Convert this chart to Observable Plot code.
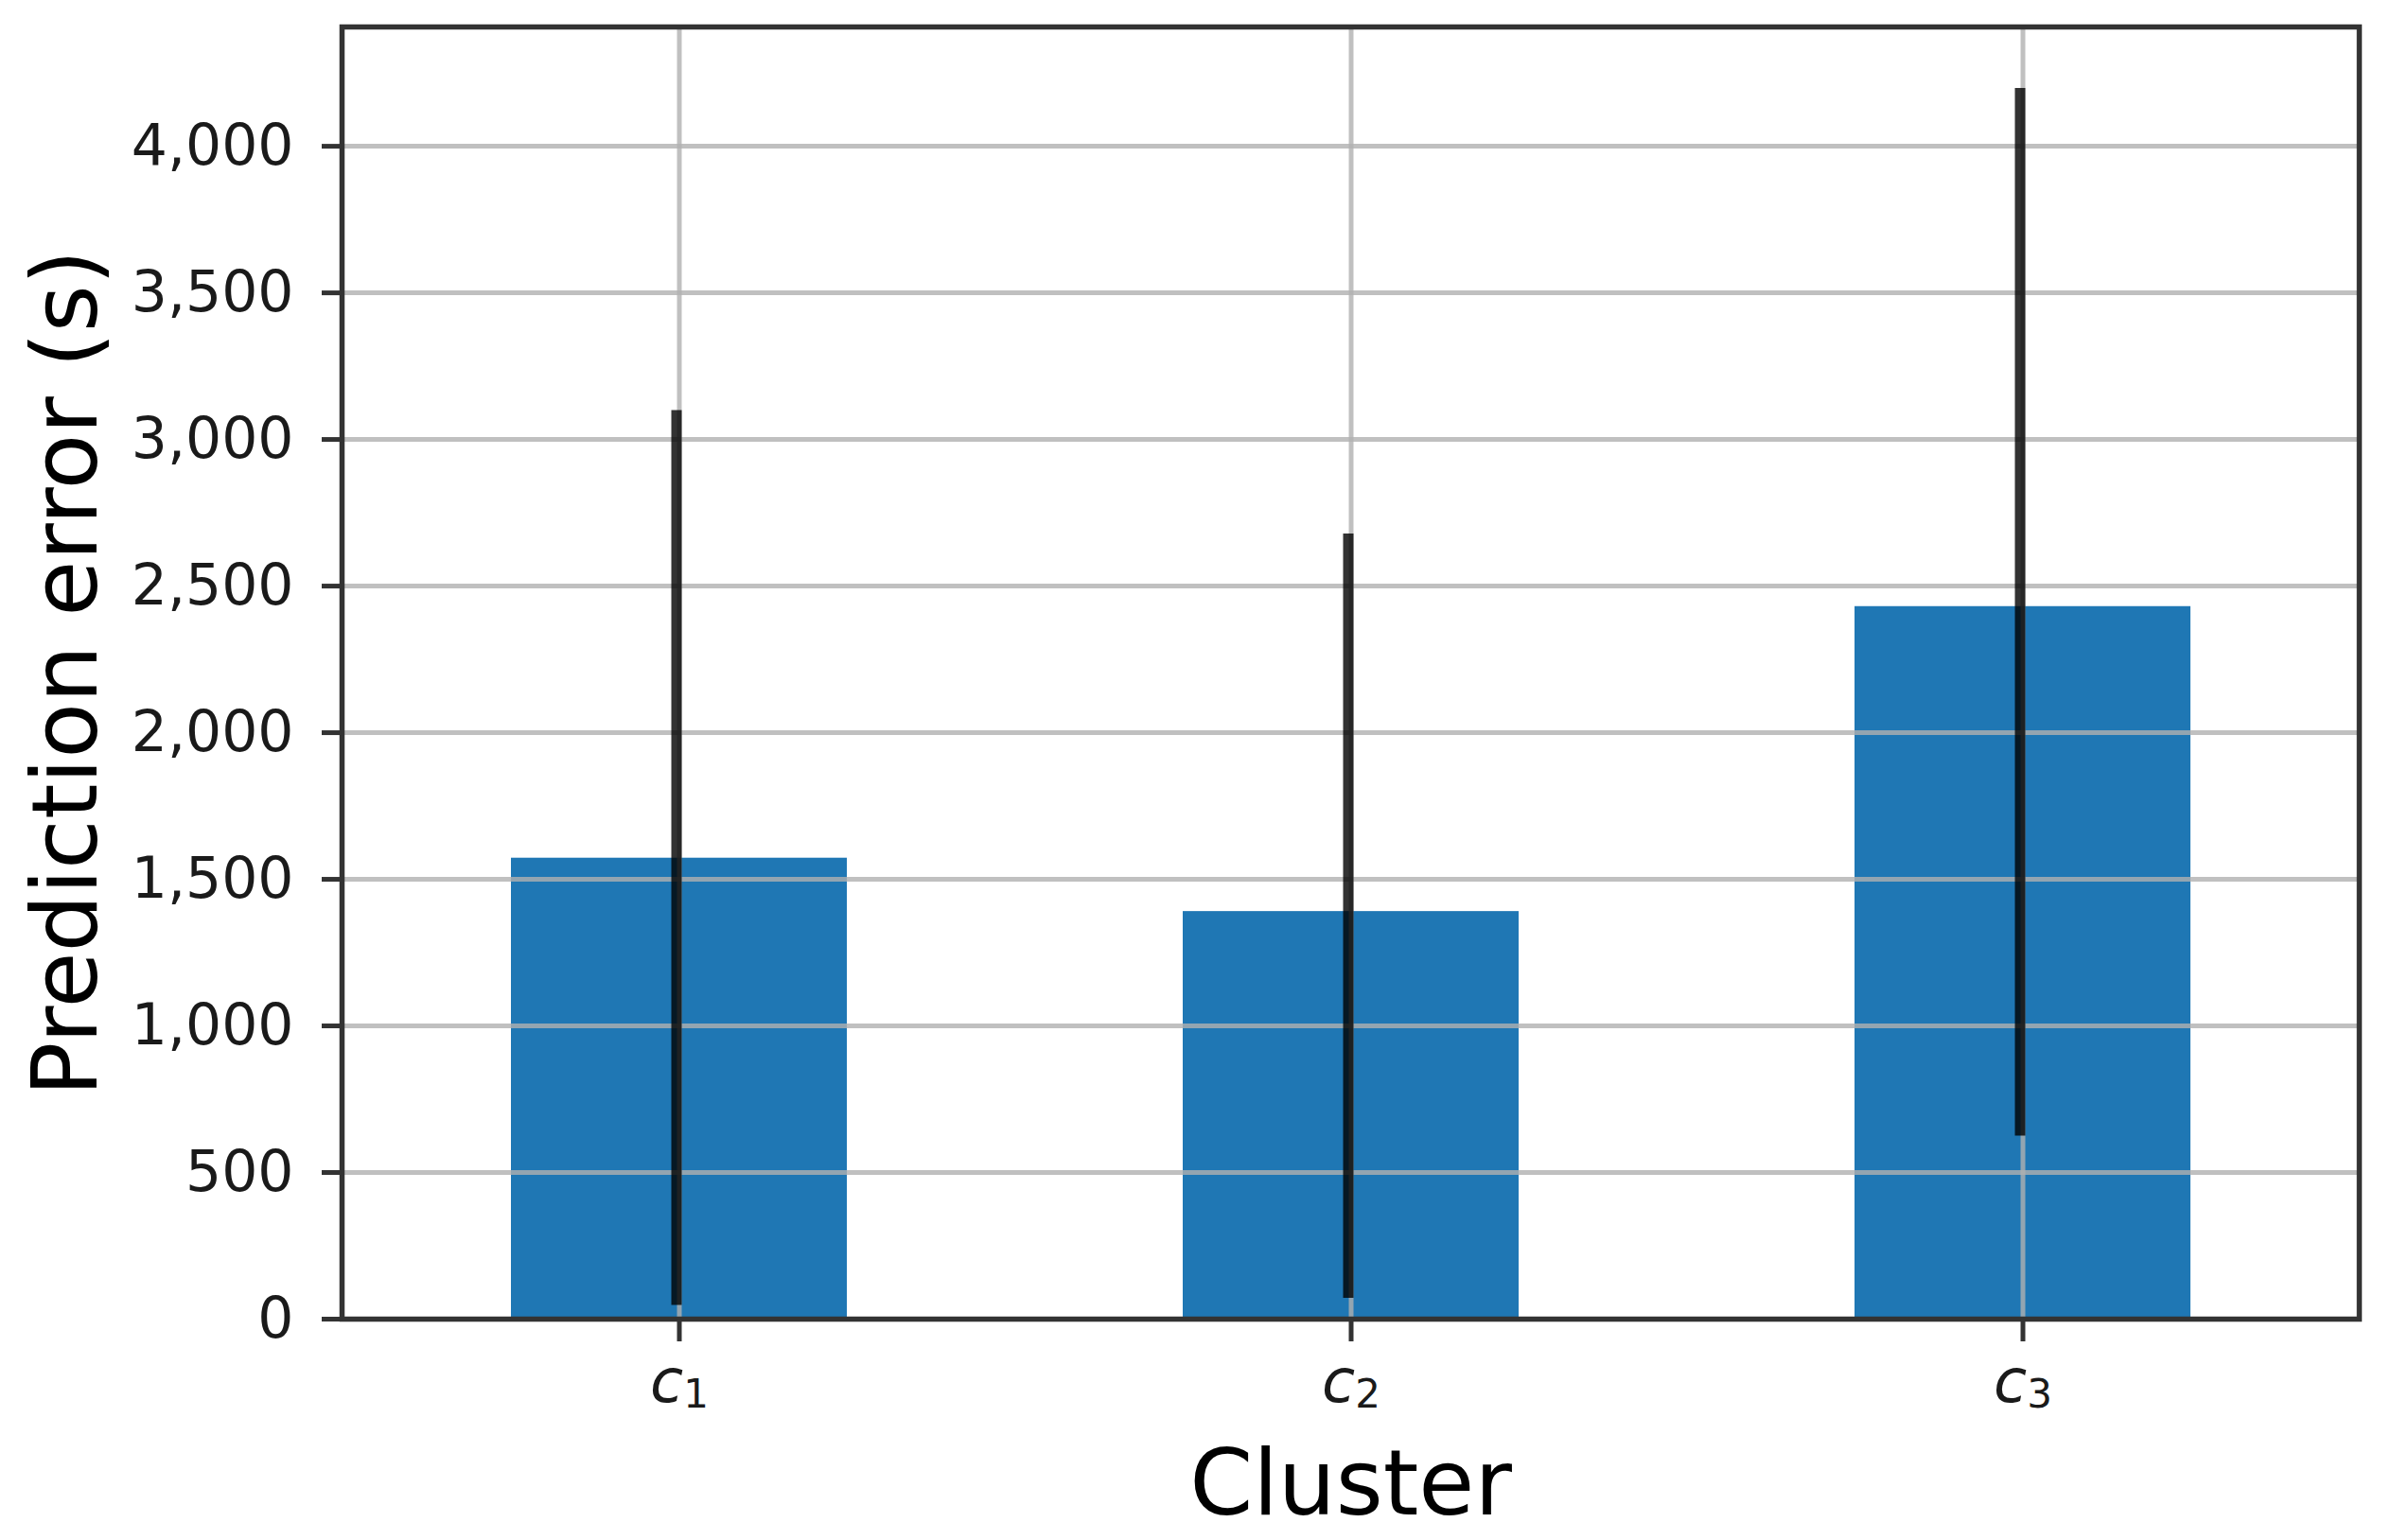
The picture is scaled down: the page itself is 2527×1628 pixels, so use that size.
<!DOCTYPE html>
<html>
<head>
<meta charset="utf-8">
<script src="https://cdn.jsdelivr.net/npm/d3@7"></script>
<script src="https://cdn.jsdelivr.net/npm/@observablehq/plot@0.6"></script>
<style>
  html, body { margin: 0; padding: 0; background: #ffffff; }
  svg { display: block; }
</style>
</head>
<body>
<script>
// ---- data ----
const categories = ["c1", "c2", "c3"];
const meanError = [1572, 1390, 2430];
const errLow = [47, 71, 624];
const errHigh = [3099, 2678, 4197];
const yTicks = [0, 500, 1000, 1500, 2000, 2500, 3000, 3500, 4000];
const xTitle = "Cluster";
const yTitle = "Prediction error (s)";

const rows = categories.map((c, i) => ({c, mean: meanError[i], lo: errLow[i], hi: errHigh[i]}));
const yMax = d3.max(errHigh) * 1.05;

const gridStyle = {stroke: "#b0b0b0", strokeOpacity: 0.8, strokeWidth: 5};

const chart = Plot.plot({
  width: 2527,
  height: 1628,
  marginLeft: 361,
  marginRight: 34,
  marginTop: 28,
  marginBottom: 234,
  style: {fontFamily: "DejaVu Sans", background: "#ffffff", color: "#1a1a1a", overflow: "visible"},
  x: {domain: categories, paddingInner: 0.5, paddingOuter: 0.25},
  y: {domain: [0, yMax]},
  marks: [
    Plot.barY(rows, {x: "c", y: "mean", fill: "#1f77b4"}),
    Plot.gridY(yTicks, {...gridStyle}),
    Plot.gridX(categories, {...gridStyle}),
    Plot.ruleX(rows, {x: "c", y1: "lo", y2: "hi", stroke: "#000000", strokeOpacity: 0.8, strokeWidth: 11, dx: -3}),
    Plot.frame({stroke: "#333333", strokeWidth: 5.5}),
    Plot.axisY(yTicks, {
      tickSize: 21, tickPadding: 30, fontSize: 60,
      tickFormat: d3.format(","), label: null,
      stroke: "#333333", strokeWidth: 5, fill: "#1a1a1a"
    }),
    Plot.axisX(categories, {
      tickSize: 24, tickPadding: 18, fontSize: 64,
      label: null, stroke: "#333333", strokeWidth: 5, fill: "#1a1a1a"
    }),
    Plot.text([xTitle], {frameAnchor: "bottom", lineAnchor: "bottom", textAnchor: "middle", dy: 206, fontSize: 96, fill: "#000000"}),
    Plot.text([yTitle], {frameAnchor: "left", rotate: -90, lineAnchor: "bottom", textAnchor: "middle", dx: -260, fontSize: 96, fill: "#000000"})
  ]
});

// render x tick labels as math text: italic "c" with an upright subscript index
d3.select(chart).selectAll('g[aria-label="x-axis tick label"] text').each(function () {
  const t = d3.select(this);
  const s = this.textContent;
  t.text(null);
  t.append("tspan").attr("font-style", "italic").text(s.slice(0, 1));
  t.append("tspan").attr("font-size", "42px").attr("dy", "6").text(s.slice(1));
});

document.body.appendChild(chart);
</script>
</body>
</html>
